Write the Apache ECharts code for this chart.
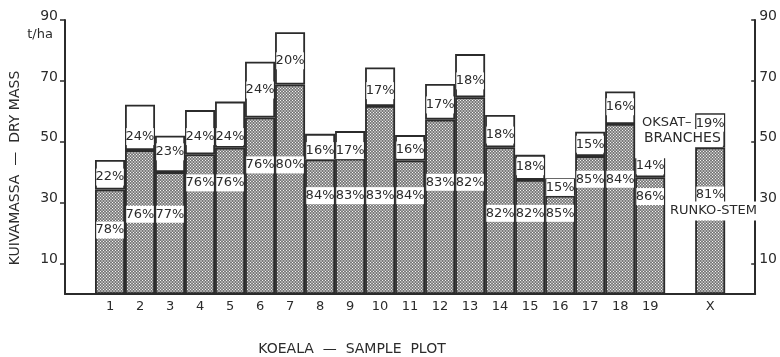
<!DOCTYPE html>
<html>
<head>
<meta charset="utf-8">
<script src="https://cdn.jsdelivr.net/npm/echarts@6/dist/echarts.min.js"></script>
<style>
html, body { margin: 0; padding: 0; background: #fff; }
#chart { width: 780px; height: 357px; }
</style>
</head>
<body>
<div id="chart"></div>
<script>
// Sample plots 1–19 and the mean (X)
const plots = ['1','2','3','4','5','6','7','8','9','10','11','12','13','14','15','16','17','18','19','X'];
// Total dry mass, t/ha
const totalMass = [44.0, 62.2, 52.0, 60.4, 63.2, 76.3, 86.0, 52.6, 53.5, 74.4, 52.2, 69.0, 78.8, 58.8, 45.7, 38.0, 53.3, 66.5, 44.6, 59.4];
// Share of stem (runko) and branches (oksat), %
const stemShare   = [78, 76, 77, 76, 76, 76, 80, 84, 83, 83, 84, 83, 82, 82, 82, 85, 85, 84, 86, 81];
const branchShare = [22, 24, 23, 24, 24, 24, 20, 16, 17, 17, 16, 17, 18, 18, 18, 15, 15, 16, 14, 19];
// Y-axis tick labels
const yTicks = [10, 30, 50, 70, 90];

// Label heights inside the bars (axis units)
const stemLabelAt   = [21.0, 26.2, 26.2, 36.5, 36.5, 42.4, 42.4, 32.3, 32.3, 32.3, 32.3, 36.7, 36.7, 26.5, 26.5, 26.5, 37.7, 37.7, 32.0, 32.5];
const branchLabelAt = [38.4, 51.7, 46.7, 51.7, 51.7, 67.0, 76.6, 47.1, 47.1, 66.8, 47.3, 62.1, 70.0, 52.2, 41.8, 35.0, 49.2, 61.5, 42.1, 56.1];

const FONT = '"DejaVu Sans", sans-serif';
const INK = '#2b2b2b';

// Category slots: a blank slot before plot 1, one between plot 19 and X, one after X
const slots = [''].concat(plots.slice(0, 19), [''], plots.slice(19), ['']);
const slotOf = plots.map((p, i) => (i < 19 ? i + 1 : 21));

const stemData = slots.map(() => null);
const branchData = slots.map(() => null);
plots.forEach((p, i) => {
  const stem = +(totalMass[i] * stemShare[i] / 100).toFixed(2);
  stemData[slotOf[i]] = stem;
  branchData[slotOf[i]] = +(totalMass[i] - stem).toFixed(2);
});

// Stippled texture for the stem part: 3x3 cell, light centre ringed by grey
function stipple() {
  const c = document.createElement('canvas');
  c.width = 3; c.height = 3;
  const g = c.getContext('2d');
  const img = g.createImageData(3, 3);
  const tone = [168, 122, 168,
                122, 246, 122,
                168, 122, 168];
  tone.forEach((v, k) => {
    img.data[k * 4] = v; img.data[k * 4 + 1] = v; img.data[k * 4 + 2] = v; img.data[k * 4 + 3] = 255;
  });
  g.putImageData(img, 0, 0);
  return { image: c, repeat: 'repeat' };
}

function labelRenderer(texts, withBand) {
  return function (params, api) {
    const p = api.coord([api.value(0), api.value(1)]);
    const w = api.size([1, 0])[0];
    const children = [];
    if (withBand) {
      children.push({ type: 'rect', shape: { x: p[0] - w / 2 + 1.2, y: p[1] - 8.5, width: w - 2.4, height: 17 }, style: { fill: '#fff' } });
    }
    children.push({ type: 'text', x: p[0], y: p[1], style: { text: texts[params.dataIndex], fill: INK, font: '13px ' + FONT, align: 'center', verticalAlign: 'middle' } });
    return { type: 'group', children };
  };
}

const stemLabels = plots.map((p, i) => [slotOf[i], stemLabelAt[i]]);
const branchLabels = plots.map((p, i) => [slotOf[i], branchLabelAt[i]]);

// Tick labels sit just above their ticks
const yAxisBase = {
  type: 'value', min: 0, max: 90,
  axisLine: { show: true, lineStyle: { color: INK, width: 2 } },
  splitLine: { show: false },
  axisLabel: { customValues: yTicks, color: INK, fontFamily: FONT, fontSize: 14, verticalAlign: 'bottom', lineHeight: 8 },
  axisTick: { show: true, customValues: yTicks, length: 5, lineStyle: { color: INK, width: 1.5 } }
};

const chart = echarts.init(document.getElementById('chart'), null, { renderer: 'canvas' });
chart.setOption({
  animation: false,
  backgroundColor: '#fff',
  grid: { left: 65, right: 22, top: 20, bottom: 63, containLabel: false },
  xAxis: {
    type: 'category', data: slots,
    axisLine: { lineStyle: { color: INK, width: 2 } },
    axisTick: { show: false },
    axisLabel: { interval: 0, color: INK, fontFamily: FONT, fontSize: 13, margin: 6 }
  },
  yAxis: [
    Object.assign({}, yAxisBase, { position: 'left', axisLabel: Object.assign({}, yAxisBase.axisLabel, { margin: 7 }) }),
    Object.assign({}, yAxisBase, { position: 'right',
      axisTick: Object.assign({}, yAxisBase.axisTick, { inside: true, length: 4 }),
      axisLabel: Object.assign({}, yAxisBase.axisLabel, { margin: 4 }) })
  ],
  series: [
    { type: 'bar', name: 'Runko – Stem', stack: 'mass', barWidth: '100%', data: stemData,
      itemStyle: { color: stipple(), borderColor: INK, borderWidth: 1.8 } },
    { type: 'bar', name: 'Oksat – Branches', stack: 'mass', barWidth: '100%', data: branchData,
      itemStyle: { color: '#fff', borderColor: INK, borderWidth: 1.8 } },
    { type: 'custom', data: stemLabels, renderItem: labelRenderer(stemShare.map(v => v + '%'), true), z: 5 },
    { type: 'custom', data: branchLabels, renderItem: labelRenderer(branchShare.map(v => v + '%'), true), z: 5 }
  ],
  graphic: [
    { type: 'text', x: 15, y: 168, rotation: Math.PI / 2, style: { text: 'KUIVAMASSA  —  DRY MASS', fill: INK, font: '14px ' + FONT, align: 'center', verticalAlign: 'middle' } },
    { type: 'text', x: 40, y: 35, style: { text: 't/ha', fill: INK, font: '13px ' + FONT, align: 'center', verticalAlign: 'middle' } },
    { type: 'text', x: 352, y: 349, style: { text: 'KOEALA  —  SAMPLE  PLOT', fill: INK, font: '14px ' + FONT, align: 'center', verticalAlign: 'middle' } },
    { type: 'text', x: 641, y: 123, z: 20, style: { text: 'OKSAT–', fill: INK, font: '13px ' + FONT, align: 'left', verticalAlign: 'middle', backgroundColor: '#fff', padding: [2, 1] } },
    { type: 'text', x: 642, y: 138, z: 20, style: { text: 'BRANCHES', fill: INK, font: '14px ' + FONT, align: 'left', verticalAlign: 'middle', backgroundColor: '#fff', padding: [2, 2] } },
    { type: 'text', x: 669, y: 211, z: 20, style: { text: 'RUNKO-STEM', fill: INK, font: '13px ' + FONT, align: 'left', verticalAlign: 'middle', backgroundColor: '#fff', padding: [3, 1] } }
  ]
});
</script>
</body>
</html>
